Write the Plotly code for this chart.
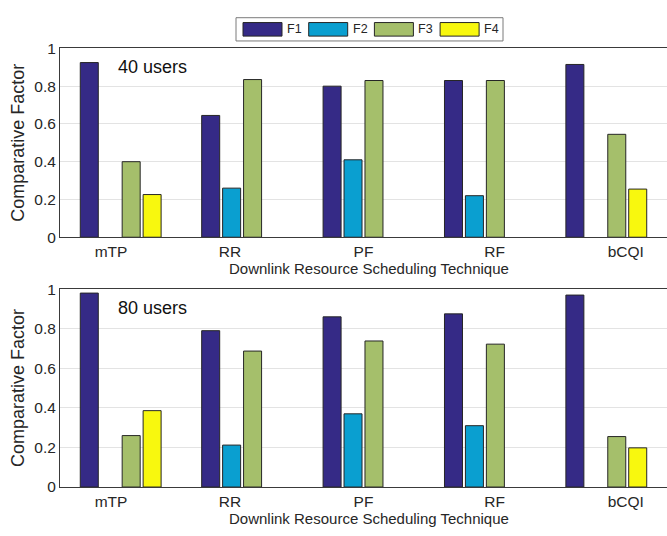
import plotly.graph_objects as go

# ---------------- data ----------------
categories = ["mTP", "RR", "PF", "RF", "bCQI"]
series_names = ["F1", "F2", "F3", "F4"]

users40_F1 = [0.925, 0.645, 0.80, 0.83, 0.915]
users40_F2 = [None, 0.26, 0.41, 0.22, None]
users40_F3 = [0.40, 0.835, 0.83, 0.83, 0.545]
users40_F4 = [0.226, None, None, None, 0.255]

users80_F1 = [0.98, 0.79, 0.86, 0.875, 0.97]
users80_F2 = [None, 0.212, 0.37, 0.31, None]
users80_F3 = [0.26, 0.687, 0.738, 0.722, 0.255]
users80_F4 = [0.386, None, None, None, 0.198]

y_ticks = [0, 0.2, 0.4, 0.6, 0.8, 1]
y_ticktext = ["0", "0.2", "0.4", "0.6", "0.8", "1"]
panel_labels = ["40 users", "80 users"]
x_title = "Downlink Resource Scheduling Technique"
y_title = "Comparative Factor"

# ---------------- style ----------------
W, H = 667, 536
colors = ["#352A86", "#0A9FD0", "#A5BF6B", "#F8F80E"]
FONT = "Arial, Liberation Sans, sans-serif"
TXT = "#262626"
positions = list(range(1, len(categories) + 1))
label_shift = [-0.08, -0.10, 0.0, 0.08, 0.16]  # tick-label placement as in the reference

def px_x(p):
    return p / W

def px_y(p):
    return 1 - p / H

panels = [
    dict(data=[users40_F1, users40_F2, users40_F3, users40_F4], top=40.7, bottom=235.7),
    dict(data=[users80_F1, users80_F2, users80_F3, users80_F4], top=289.3, bottom=493.7),
]

fig = go.Figure()
annotations = []
for k, pnl in enumerate(panels):
    xa = "x" if k == 0 else "x2"
    ya = "y" if k == 0 else "y2"
    for s, name in enumerate(series_names):
        fig.add_trace(go.Bar(
            x=positions, y=pnl["data"][s], name=name,
            marker=dict(color=colors[s], line=dict(color="#262626", width=1)),
            xaxis=xa, yaxis=ya, showlegend=False,
        ))
    dom_y = [px_y(pnl["bottom"]), px_y(pnl["top"])]
    axis_x = dict(
        domain=[px_x(60), 1.0], range=[0.5, len(categories) + 0.5],
        tickvals=[p + d for p, d in zip(positions, label_shift)], ticktext=categories,
        showline=True, mirror=True, linecolor="#3a3a3a", linewidth=1,
        showgrid=False, zeroline=False, ticks="",
        tickfont=dict(family=FONT, size=15.5, color=TXT),
        anchor=ya,
    )
    axis_y = dict(
        domain=dom_y, range=[0, 1], tickvals=y_ticks, ticktext=y_ticktext,
        showline=True, mirror=False, linecolor="#3a3a3a", linewidth=1,
        showgrid=True, gridcolor="#e3e3e3", gridwidth=1, zeroline=False, ticks="",
        tickfont=dict(family=FONT, size=15.5, color=TXT),
        anchor=xa,
    )
    if k == 0:
        fig.update_layout(xaxis=axis_x, yaxis=axis_y)
    else:
        fig.update_layout(xaxis2=axis_x, yaxis2=axis_y)

    mid = (pnl["top"] + pnl["bottom"]) / 2
    annotations.append(dict(
        text=y_title, xref="paper", yref="paper", x=px_x(18), y=px_y(mid),
        textangle=-90, showarrow=False, xanchor="center", yanchor="middle",
        font=dict(family=FONT, size=18, color=TXT),
    ))
    annotations.append(dict(
        text=x_title, xref="paper", yref="paper", x=px_x(369), y=px_y(pnl["bottom"] + 32),
        showarrow=False, xanchor="center", yanchor="middle",
        font=dict(family=FONT, size=15, color=TXT),
    ))
    annotations.append(dict(
        text=panel_labels[k], xref="paper", yref="paper", x=px_x(116), y=px_y(pnl["top"] + 19),
        showarrow=False, xanchor="left", yanchor="middle",
        font=dict(family=FONT, size=18, color="#111111"),
    ))

# legend drawn with wide swatches like the reference
shapes = [dict(type="rect", xref="paper", yref="paper",
               x0=px_x(236), x1=px_x(503), y0=px_y(33), y1=px_y(9),
               line=dict(color="#7a7a7a", width=1), fillcolor="white")]
for s, name in enumerate(series_names):
    x0 = 243 + s * 65.7
    shapes.append(dict(type="rect", xref="paper", yref="paper",
                       x0=px_x(x0), x1=px_x(x0 + 39), y0=px_y(28), y1=px_y(14),
                       line=dict(color="#262626", width=1), fillcolor=colors[s]))
    annotations.append(dict(
        text=name, xref="paper", yref="paper", x=px_x(x0 + 42), y=px_y(21),
        showarrow=False, xanchor="left", yanchor="middle",
        font=dict(family=FONT, size=12.5, color=TXT),
    ))

fig.update_layout(
    width=W, height=H,
    margin=dict(l=0, r=0, t=0, b=0),
    paper_bgcolor="white", plot_bgcolor="white",
    barmode="group", bargap=0.31, bargroupgap=0.14,
    annotations=annotations, shapes=shapes,
    showlegend=False,
)

fig.write_html("out.html", config={"displayModeBar": False},
               post_script="document.body.style.margin='0';document.body.style.overflow='hidden';")
